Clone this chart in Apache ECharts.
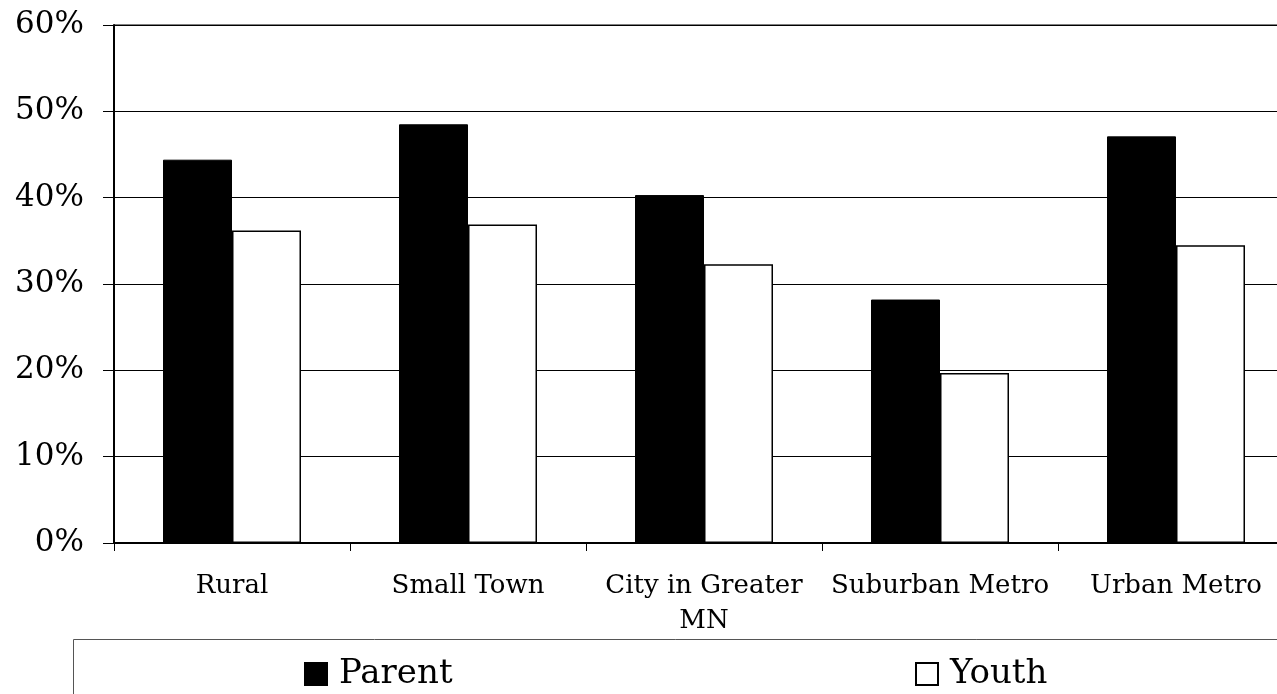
<!DOCTYPE html>
<html>
<head>
<meta charset="utf-8">
<script src="https://cdn.jsdelivr.net/npm/echarts@6/dist/echarts.min.js"></script>
<style>
html,body{margin:0;padding:0;background:#fff;}
#chart{width:1277px;height:694px;}
</style>
</head>
<body>
<div id="chart"></div>
<script>
const categories = ['Rural', 'Small Town', 'City in Greater MN', 'Suburban Metro', 'Urban Metro'];
const parentValues = [44.4, 48.5, 40.3, 28.2, 47.1];
const youthValues = [36.2, 36.9, 32.3, 19.7, 34.5];
const seriesNames = ['Parent', 'Youth'];

const FONT = 'DejaVu Serif';
const chart = echarts.init(document.getElementById('chart'), null, {renderer: 'canvas'});
chart.setOption({
  animation: false,
  backgroundColor: '#fff',
  grid: {left: 114, top: 25, width: 1180, height: 518, outerBoundsMode: 'none', containLabel: false,
         show: true, borderColor: '#000', borderWidth: 1, backgroundColor: 'transparent'},
  graphic: [{
    type: 'rect', silent: true,
    shape: {x: 73.5, y: 639.5, width: 1400, height: 200},
    style: {fill: 'none', stroke: '#555', lineWidth: 1}
  }],
  legend: [
    {data: [seriesNames[0]], left: 304, top: 657, padding: 0, itemWidth: 22, itemHeight: 22, icon: 'rect',
     textStyle: {fontFamily: FONT, fontSize: 34, color: '#000', padding: [0, 0, 0, 7]}},
    {data: [seriesNames[1]], left: 915, top: 657, padding: 0, itemWidth: 22, itemHeight: 22, icon: 'rect',
     textStyle: {fontFamily: FONT, fontSize: 34, color: '#000', padding: [0, 0, 0, 7]}}
  ],
  xAxis: {
    type: 'category', data: categories,
    axisLine: {lineStyle: {color: '#000', width: 2}},
    axisTick: {show: true, interval: 0, length: 8, lineStyle: {color: '#000', width: 1}},
    axisLabel: {
      interval: 0, hideOverlap: false,
      fontFamily: FONT, fontSize: 26, color: '#000', margin: 26, lineHeight: 35,
      formatter: v => v.replace('Greater ', 'Greater\n')
    }
  },
  yAxis: {
    type: 'value', min: 0, max: 60, interval: 10,
    axisLine: {show: true, lineStyle: {color: '#000', width: 2}},
    axisTick: {show: true, length: 11, lineStyle: {color: '#000', width: 1}},
    axisLabel: {fontFamily: FONT, fontSize: 31, color: '#000', margin: 30, formatter: '{value}%'},
    splitLine: {show: true, lineStyle: {color: '#000', width: 1}}
  },
  series: [
    {name: seriesNames[0], type: 'bar', data: parentValues, barWidth: 69, barGap: '0%',
     itemStyle: {color: '#000', borderColor: '#000', borderWidth: 1}},
    {name: seriesNames[1], type: 'bar', data: youthValues, barWidth: 69,
     itemStyle: {color: '#fff', borderColor: '#000', borderWidth: 1.5}}
  ]
});
</script>
</body>
</html>
